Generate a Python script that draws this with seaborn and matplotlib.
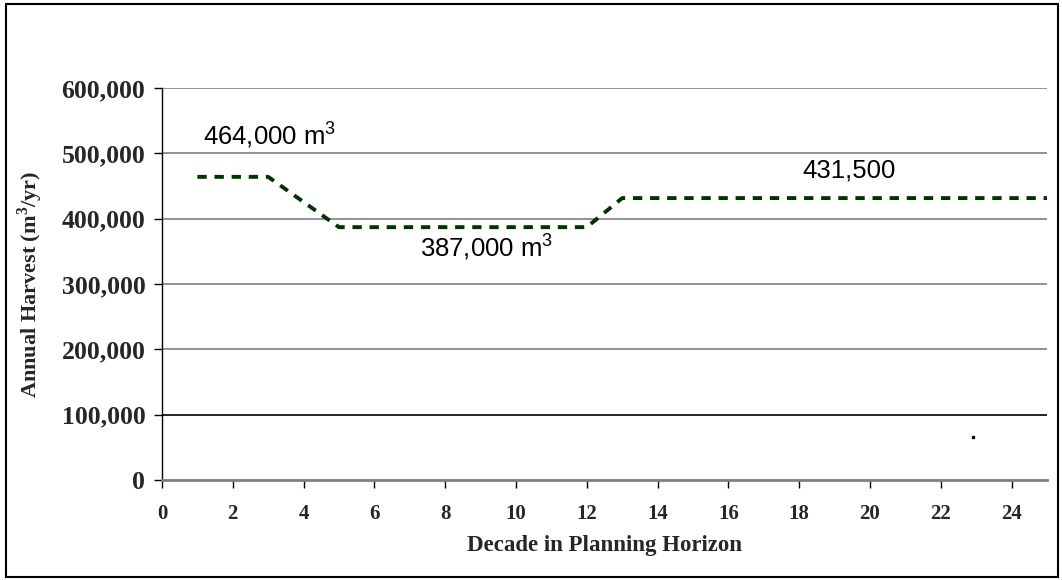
import matplotlib
matplotlib.use("Agg")
import matplotlib.pyplot as plt
import seaborn as sns
import pandas as pd
from matplotlib.patches import Rectangle

decades = list(range(1, 26))
harvest = [464000, 464000, 464000, 425500, 387000, 387000, 387000, 387000, 387000,
           387000, 387000, 387000, 431500, 431500, 431500, 431500, 431500, 431500,
           431500, 431500, 431500, 431500, 431500, 431500, 431500]
# stray point visible in the chart
stray_x = [22.9]
stray_y = [66000]

yticks = [0, 100000, 200000, 300000, 400000, 500000, 600000]
xticks = list(range(0, 25, 2))

df = pd.DataFrame({"decade": decades, "harvest": harvest})

sns.set_theme(style="white")
plt.rcParams["mathtext.fontset"] = "custom"
plt.rcParams["mathtext.rm"] = "Liberation Sans"
plt.rcParams["mathtext.bf"] = "Liberation Serif:bold"

fig = plt.figure(figsize=(10.62, 5.8), dpi=100)
ax = fig.add_axes([162 / 1062, 1 - 480 / 580, 885 / 1062, 392 / 580])

for v in yticks[1:]:
    ax.axhline(v, color="black" if v == 100000 else "#808080", lw=1.2, zorder=0)

sns.lineplot(data=df, x="decade", y="harvest", ax=ax, color="#003300",
             linestyle=(0, (2.4, 2.0)), linewidth=2.8)
ax.plot(stray_x, stray_y, marker="s", ms=1.5, color="black", linestyle="none")

ax.set_xlim(0, 25)
ax.set_ylim(0, 600000)
ax.set_xticks(xticks)
ax.set_yticks(yticks)
ax.set_yticklabels([f"{v:,}" for v in yticks])
ax.set_xticklabels([str(v) for v in xticks])

for lab in ax.get_yticklabels():
    lab.set_fontfamily("Liberation Serif")
    lab.set_fontweight("bold")
    lab.set_fontsize(18.5)
for lab in ax.get_xticklabels():
    lab.set_fontfamily("Liberation Serif")
    lab.set_fontweight("bold")
    lab.set_fontsize(15)

ax.tick_params(axis="both", which="both", direction="out", length=6, width=1,
               color="black", left=True, bottom=True, pad=6)
ax.tick_params(axis="x", pad=11)

for s in ["top", "right"]:
    ax.spines[s].set_visible(False)
ax.spines["left"].set_color("black")
ax.spines["left"].set_linewidth(1)
ax.spines["bottom"].set_color("#808080")
ax.spines["bottom"].set_linewidth(2)

ax.set_xlabel("Decade in Planning Horizon", fontfamily="Liberation Serif",
              fontweight="bold", fontsize=16.5, labelpad=8)
ax.set_ylabel("Annual Harvest (m$^\\mathbf{3}$/yr)", fontfamily="Liberation Serif",
              fontweight="bold", fontsize=16, labelpad=12)

ax.text(1.15, 528000, "464,000 m$^3$", fontfamily="Liberation Sans", fontsize=18.5,
        va="center", ha="left", color="black")
ax.text(7.3, 357000, "387,000 m$^3$", fontfamily="Liberation Sans", fontsize=18.5,
        va="center", ha="left", color="black")
ax.text(19.4, 474000, "431,500", fontfamily="Liberation Sans", fontsize=18.5,
        va="center", ha="center", color="black")

fig.patches.append(Rectangle((6 / 1062, 1 - 577 / 580), 1052 / 1062, 573 / 580,
                             transform=fig.transFigure, fill=False,
                             edgecolor="black", lw=1.5))

fig.savefig("out.png", dpi=100)
